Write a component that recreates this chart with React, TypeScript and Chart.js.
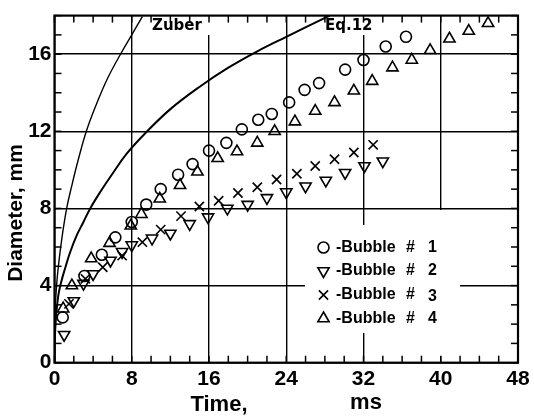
import React, { useEffect, useRef } from "react";
import { Chart, registerables } from "chart.js";

Chart.register(...registerables);

// ---- Data (time in ms, diameter in mm) ----
const b1Time = [0.85, 3.1, 4.9, 6.3, 8.0, 9.5, 11.0, 12.8, 14.3, 16.0, 17.8, 19.4, 21.1, 22.5, 24.3, 25.9, 27.4, 30.1, 32.0, 34.3, 36.4];
const b1Diam = [2.35, 4.5, 5.6, 6.5, 7.3, 8.2, 9.0, 9.75, 10.3, 11.0, 11.4, 12.1, 12.6, 12.9, 13.5, 14.15, 14.5, 15.2, 15.7, 16.4, 16.9];

const b2Time = [1.0, 2.0, 3.0, 4.0, 5.8, 7.0, 8.0, 10.1, 12.0, 14.0, 15.9, 17.9, 20.0, 22.0, 24.0, 26.0, 28.1, 30.1, 32.1, 34.0];
const b2Diam = [1.45, 3.2, 4.1, 4.6, 5.3, 5.75, 6.1, 6.45, 6.7, 7.2, 7.55, 8.0, 8.2, 8.55, 8.85, 9.15, 9.45, 9.85, 10.2, 10.45];

const b3Time = [1.5, 3.2, 5.0, 7.0, 9.1, 11.0, 13.1, 15.0, 17.0, 19.0, 21.0, 23.0, 25.1, 27.0, 29.0, 31.0, 33.0];
const b3Diam = [3.05, 4.35, 4.95, 5.55, 6.25, 6.9, 7.6, 8.1, 8.4, 8.8, 9.1, 9.5, 9.8, 10.2, 10.55, 10.9, 11.3];

const b4Time = [0.9, 1.8, 3.8, 5.7, 7.9, 9.0, 10.9, 13.0, 14.8, 16.9, 18.9, 21.0, 22.8, 24.9, 27.0, 29.0, 31.0, 32.9, 35.0, 37.0, 38.9, 40.9, 42.9, 44.9];
const b4Diam = [2.8, 4.0, 5.4, 6.2, 7.1, 7.7, 8.5, 9.2, 9.9, 10.6, 10.95, 11.4, 12.0, 12.5, 13.05, 13.5, 14.1, 14.6, 15.3, 15.7, 16.2, 16.8, 17.2, 17.6];

const zuberTime = [0, 0.02, 0.08, 0.2, 0.4, 0.75, 1.26, 1.8, 2.5, 3.33, 4.3, 5.5, 6.95, 8.0, 9.1];
const zuberDiam = [0, 1.5, 2.8, 3.9, 5.0, 6.4, 8.0, 9.2, 10.6, 12.05, 13.35, 14.75, 16.1, 17.0, 17.95];

const eq12Time = [0, 0.05, 0.15, 0.4, 0.7, 1.1, 1.6, 2.3, 3.0, 3.7, 4.8, 6.0, 7.5, 9.5, 12.0, 15.0, 18.0, 21.0, 24.0, 28.5];
const eq12Diam = [0, 1.4, 2.3, 3.5, 4.2, 4.9, 5.7, 6.6, 7.3, 8.0, 8.9, 9.8, 10.85, 11.95, 13.15, 14.3, 15.3, 16.15, 16.9, 18.0];

const X_TICKS = [0, 8, 16, 24, 32, 40, 48];
const Y_TICKS = [0, 4, 8, 12, 16];
const X_MINOR_STEP = 2;
const Y_MINOR_STEP = 1;
const X_MAX = 48;
const Y_MAX = 18;

const LEGEND_NUMS = ["1", "2", "3", "4"];
const X_TITLE_A = "Time,";
const X_TITLE_B = "ms";
const Y_TITLE = "Diameter, mm";
const ZUBER_LABEL = "Zuber";
const EQ12_LABEL = "Eq.12";

function pts(xs: number[], ys: number[]) {
  return xs.map((x, i) => ({ x, y: ys[i] }));
}

const MARKERS = [
  { style: "circle", rotation: 0, radius: 5.5 },
  { style: "triangle", rotation: 180, radius: 6.5 },
  { style: "crossRot", rotation: 0, radius: 6.5 },
  { style: "triangle", rotation: 0, radius: 6.5 },
];

function drawMarker(ctx: CanvasRenderingContext2D, style: string, r: number, rotDeg: number, cx: number, cy: number) {
  ctx.save();
  ctx.translate(cx, cy);
  ctx.rotate((rotDeg * Math.PI) / 180);
  ctx.beginPath();
  if (style === "circle") {
    ctx.arc(0, 0, r, 0, Math.PI * 2);
  } else if (style === "triangle") {
    for (let k = 0; k < 3; k++) {
      const ang = -Math.PI / 2 + (k * 2 * Math.PI) / 3;
      const px = Math.cos(ang) * r;
      const py = Math.sin(ang) * r;
      if (k === 0) ctx.moveTo(px, py);
      else ctx.lineTo(px, py);
    }
    ctx.closePath();
  } else {
    const d = r * Math.SQRT1_2;
    ctx.moveTo(-d, -d);
    ctx.lineTo(d, d);
    ctx.moveTo(d, -d);
    ctx.lineTo(-d, d);
  }
  ctx.stroke();
  ctx.restore();
}

const decor = {
  id: "decor",
  beforeDatasetsDraw(chart: any) {
    const { ctx } = chart;
    ctx.save();
    ctx.fillStyle = "#fff";
    // gaps in grid behind the legend and labels
    ctx.fillRect(305, 225, 155, 108);
    ctx.fillRect(436, 210, 10, 146);
    ctx.fillRect(148, 13, 64, 22);
    ctx.fillRect(320, 13, 56, 22);
    ctx.restore();
  },
  afterDraw(chart: any) {
    const { ctx, chartArea: a, scales } = chart;
    const x = scales.x;
    const y = scales.y;
    ctx.save();
    ctx.strokeStyle = "#000";
    ctx.fillStyle = "#000";
    ctx.lineWidth = 1.5;
    const line = (x1: number, y1: number, x2: number, y2: number) => {
      ctx.beginPath();
      ctx.moveTo(x1, y1);
      ctx.lineTo(x2, y2);
      ctx.stroke();
    };
    for (let t = 0; t <= X_MAX; t += X_MINOR_STEP) {
      const px = x.getPixelForValue(t);
      line(px, a.bottom, px, a.bottom - 7);
      line(px, a.top, px, a.top + 7);
    }
    for (let v = 0; v <= Y_MAX; v += Y_MINOR_STEP) {
      const py = y.getPixelForValue(v);
      line(a.left, py, a.left + 7, py);
      line(a.right, py, a.right - 7, py);
    }
    ctx.lineWidth = 2.2;
    ctx.strokeRect(a.left, a.top, a.right - a.left, a.bottom - a.top);

    // curve labels
    ctx.font = "bold 15px 'DejaVu Sans'";
    ctx.textBaseline = "middle";
    ctx.textAlign = "left";
    ctx.fillText(ZUBER_LABEL, 152, 26);
    ctx.fillText(EQ12_LABEL, 325, 26);

    // legend
    const rows = [247.5, 271, 295, 318.5];
    ctx.lineWidth = 1.6;
    rows.forEach((ry, i) => {
      const m = MARKERS[i];
      ctx.strokeStyle = "#000";
      drawMarker(ctx, m.style, m.radius, m.rotation, 323.5, ry);
      ctx.fillStyle = "#000";
      ctx.font = "bold 16px 'Liberation Sans'";
      ctx.textAlign = "left";
      ctx.textBaseline = "middle";
      ctx.fillText("-Bubble", 336, ry);
      ctx.fillText("#", 406, ry);
      ctx.fillText(LEGEND_NUMS[i], 428, ry + (i === 2 ? 2 : 0));
    });

    // axis titles
    ctx.fillStyle = "#000";
    ctx.font = "bold 22px 'Liberation Sans'";
    ctx.textBaseline = "middle";
    ctx.textAlign = "center";
    ctx.fillText(X_TITLE_A, 219, 405);
    ctx.fillText(X_TITLE_B, 366, 403);
    ctx.save();
    ctx.translate(16, 213);
    ctx.rotate(-Math.PI / 2);
    ctx.font = "bold 21px 'Liberation Sans'";
    ctx.fillText(Y_TITLE, 0, 0);
    ctx.restore();
    ctx.restore();
  },
};

export default function App() {
  const ref = useRef<HTMLCanvasElement | null>(null);
  useEffect(() => {
    if (!ref.current) return;
    const series = [
      pts(b1Time, b1Diam),
      pts(b2Time, b2Diam),
      pts(b3Time, b3Diam),
      pts(b4Time, b4Diam),
    ];
    const scatterSets = series.map((d, i) => ({
      type: "scatter",
      label: "Bubble # " + LEGEND_NUMS[i],
      data: d,
      showLine: false,
      pointStyle: MARKERS[i].style,
      rotation: MARKERS[i].rotation,
      pointRadius: MARKERS[i].radius,
      pointBorderWidth: 1.6,
      borderColor: "#000",
      backgroundColor: "rgba(0,0,0,0)",
      pointBackgroundColor: "rgba(0,0,0,0)",
      pointBorderColor: "#000",
    }));
    const chart = new Chart(ref.current, {
      type: "scatter",
      data: {
        datasets: [
          {
            type: "line",
            label: "Zuber",
            data: pts(zuberTime, zuberDiam),
            borderColor: "#000",
            borderWidth: 1.4,
            pointRadius: 0,
            tension: 0.4,
            fill: false,
          },
          {
            type: "line",
            label: "Eq.12",
            data: pts(eq12Time, eq12Diam),
            borderColor: "#000",
            borderWidth: 2,
            pointRadius: 0,
            tension: 0.4,
            fill: false,
          },
          ...scatterSets,
        ] as any,
      },
      options: {
        responsive: false,
        animation: false,
        events: [],
        layout: { padding: { top: 11, right: 16, left: 0, bottom: 0 } },
        plugins: {
          legend: { display: false },
          tooltip: { enabled: false },
          title: { display: false },
        },
        scales: {
          x: {
            type: "linear",
            min: 0,
            max: X_MAX,
            afterFit: (s: any) => {
              s.height = 57.3;
            },
            afterBuildTicks: (s: any) => {
              s.ticks = X_TICKS.map((v) => ({ value: v }));
            },
            grid: { color: "#000", lineWidth: 1.4, drawTicks: false },
            border: { display: false },
            ticks: {
              color: "#000",
              padding: 4,
              maxRotation: 0,
              font: { family: "'Liberation Sans'", size: 21, weight: "bold" },
            },
          },
          y: {
            type: "linear",
            min: 0,
            max: Y_MAX,
            afterFit: (s: any) => {
              s.width = 54.5;
            },
            afterBuildTicks: (s: any) => {
              s.ticks = Y_TICKS.map((v) => ({ value: v }));
            },
            grid: { color: "#000", lineWidth: 1.4, drawTicks: false },
            border: { display: false },
            ticks: {
              color: "#000",
              padding: 3,
              font: { family: "'Liberation Sans'", size: 21, weight: "bold" },
            },
          },
        },
      } as any,
      plugins: [decor],
    } as any);
    return () => chart.destroy();
  }, []);
  return (
    <div style={{ position: "fixed", left: 0, top: 0, width: 534, height: 420, background: "#fff" }}>
      <canvas ref={ref} width={534} height={420} style={{ width: 534, height: 420, display: "block" }} />
    </div>
  );
}
